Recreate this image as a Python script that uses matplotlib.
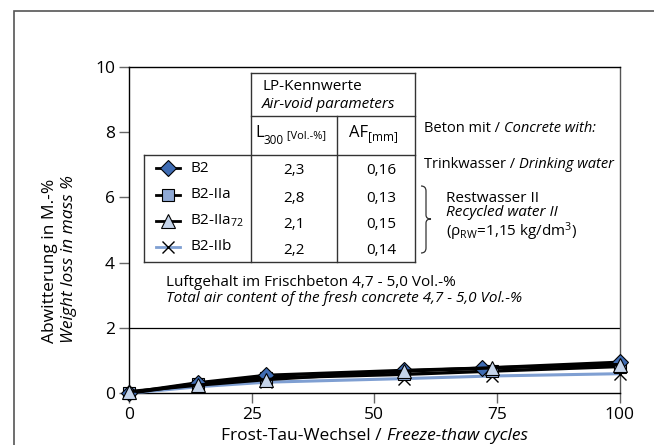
import matplotlib
matplotlib.use("Agg")
import matplotlib.pyplot as plt
from matplotlib.lines import Line2D
from matplotlib.patches import Rectangle, PathPatch
from matplotlib.path import Path

plt.rcParams['font.family'] = ['Open Sans', 'DejaVu Sans']
plt.rcParams['mathtext.fontset'] = 'custom'
plt.rcParams['mathtext.rm'] = 'Open Sans'
plt.rcParams['mathtext.it'] = 'Open Sans:italic'

# data
series_names = ['B2', 'B2-IIa', 'B2-IIa$_{72}$', 'B2-IIb']
x_b2 = [0, 14, 28, 56, 72, 100]
y_b2 = [0.02, 0.32, 0.55, 0.70, 0.77, 0.95]
x_b2iia = [0, 14, 28, 56, 74, 100]
y_b2iia = [0.0, 0.30, 0.47, 0.58, 0.68, 0.82]
x_b2iia72 = [0, 14, 28, 56, 74, 100]
y_b2iia72 = [0.05, 0.25, 0.42, 0.68, 0.78, 0.88]
x_b2iib = [0, 14, 28, 56, 74, 100]
y_b2iib = [0.0, 0.20, 0.34, 0.45, 0.53, 0.60]
l300 = ['2,3', '2,8', '2,1', '2,2']
af = ['0,16', '0,13', '0,15', '0,14']

W, H = 654, 445
fig = plt.figure(figsize=(W / 100, H / 100), dpi=100)


def fx(x):
    return x / W


def fy(y):
    return 1 - y / H


# outer frame (only top and left edge visible)
fig.add_artist(Rectangle((fx(14), -0.2), 1.2, fy(11) + 0.2, transform=fig.transFigure,
                         fill=False, edgecolor='#555555', lw=1.2))

ax = fig.add_axes([fx(129), fy(393.3), (619.6 - 129) / W, (393.3 - 66.7) / H])
ax.set_xlim(0, 100)
ax.set_ylim(0, 10)
ax.set_xticks([0, 25, 50, 75, 100])
ax.set_yticks([0, 2, 4, 6, 8, 10])
ax.tick_params(direction='out', length=7, width=1, color='#666666', labelsize=12.5, pad=3)
for s in ax.spines.values():
    s.set_linewidth(1.0)
ax.spines['right'].set_color('#555555')
ax.axhline(2, color='black', lw=0.9)

ax.plot(x_b2iib, y_b2iib, color='#7f9fd2', lw=2.2, marker='x', ms=8, mec='black', mew=1, clip_on=False, zorder=3)
ax.plot(x_b2iia72, y_b2iia72, color='black', lw=2.4, marker='^', ms=10, mfc='#c5d4ea', mec='black', mew=0.8, clip_on=False, zorder=4)
ax.plot(x_b2iia, y_b2iia, color='black', lw=2.4, marker='s', ms=8, mfc='#8fa9d5', mec='black', mew=0.8, clip_on=False, zorder=3.5)
ax.plot(x_b2, y_b2, color='black', lw=2.4, marker='D', ms=8, mfc='#3f6cb3', mec='black', mew=0.8, clip_on=False, zorder=3.8)

# axis labels
fig.text(fx(50), fy(343), 'Abwitterung in M.-%', rotation=90, ha='center', va='bottom', fontsize=12.5)
fig.text(fx(69), fy(343), 'Weight loss in mass %', rotation=90, ha='center', va='bottom', fontsize=12.5, style='italic')


def mixed(x, y, parts, center=False):
    # parts: (text, fontsize, style, y offset in px)
    r = fig.canvas.get_renderer()
    texts = []
    widths = []
    for s, size, style, dy in parts:
        t = fig.text(0, fy(y + dy), s, fontsize=size, style=style, va='center')
        texts.append(t)
        widths.append(t.get_window_extent(r).width)
    if center:
        x = x - sum(widths) / 2
    for t, w in zip(texts, widths):
        t.set_x(fx(x))
        x += w


mixed(374.5, 436, [('Frost-Tau-Wechsel / ', 12.5, 'normal', 0), ('Freeze-thaw cycles', 12.5, 'italic', 0)], center=True)

# table lines
def hline(x1, x2, y):
    fig.add_artist(Line2D([fx(x1), fx(x2)], [fy(y), fy(y)], transform=fig.transFigure, color='#333333', lw=1))


def vline(x, y1, y2):
    fig.add_artist(Line2D([fx(x), fx(x)], [fy(y1), fy(y2)], transform=fig.transFigure, color='#333333', lw=1))


hline(251, 415, 72.7)
hline(251, 415, 116)
hline(144, 415, 155.3)
hline(144, 415, 262)
vline(251, 72.7, 262)
vline(415, 72.7, 262)
vline(144, 155.3, 262)
vline(337, 116, 262)

fig.text(fx(262), fy(86), 'LP-Kennwerte', fontsize=11, va='center')
fig.text(fx(262), fy(105), 'Air-void parameters', fontsize=11, va='center', style='italic')
mixed(255, 133, [('L', 12, 'normal', 0), ('300', 8.5, 'normal', 7), (' [Vol.-%]', 8, 'normal', 3)])
mixed(349, 133, [('AF', 12, 'normal', 0), ('[mm]', 8.5, 'normal', 4)])

row_y = [168, 195, 221, 247]
styles = [
    dict(color='black', marker='D', ms=8, mfc='#3f6cb3', mec='black', mew=0.8),
    dict(color='black', marker='s', ms=8, mfc='#8fa9d5', mec='black', mew=0.8),
    dict(color='black', marker='^', ms=10, mfc='#c5d4ea', mec='black', mew=0.8),
    dict(color='#7f9fd2', marker='x', ms=8, mfc='black', mec='black', mew=1),
]
for name, l, a, y, st in zip(series_names, l300, af, row_y, styles):
    lc = st.pop('color')
    fig.add_artist(Line2D([fx(156), fx(180)], [fy(y), fy(y)], transform=fig.transFigure, color=lc, lw=2))
    fig.add_artist(Line2D([fx(168)], [fy(y)], transform=fig.transFigure, ls='none', **st))
    fig.text(fx(190), fy(y), name, fontsize=11, va='center')
    fig.text(fx(294), fy(y + 3), l, fontsize=11, va='center', ha='center')
    fig.text(fx(381), fy(y + 3), a, fontsize=11, va='center', ha='center')

mixed(424, 128, [('Beton mit / ', 10.5, 'normal', 0), ('Concrete with:', 10.5, 'italic', 0)])
mixed(424, 165, [('Trinkwasser / ', 10.5, 'normal', 0), ('Drinking water', 10.5, 'italic', 0)])
fig.text(fx(446), fy(198), 'Restwasser II', fontsize=11, va='center')
fig.text(fx(446), fy(213), 'Recycled water II', fontsize=11, va='center', style='italic')
fig.text(fx(446), fy(232), r'($\mathrm{\rho}_{\mathrm{RW}}$=1,15 kg/dm$^{3}$)', fontsize=11, va='center')

# curly brace
bx, by1, by2, bm = 421, 186, 253, 219
verts = [(bx, by1), (bx + 5, by1), (bx + 5, by1 + 5), (bx + 5, bm - 4), (bx + 5, bm), (bx + 10, bm),
         (bx + 5, bm), (bx + 5, bm + 4), (bx + 5, by2 - 5), (bx + 5, by2), (bx, by2)]
codes = [Path.MOVETO, Path.CURVE3, Path.CURVE3, Path.LINETO, Path.CURVE3, Path.CURVE3,
         Path.CURVE3, Path.CURVE3, Path.LINETO, Path.CURVE3, Path.CURVE3]
verts = [(fx(x), fy(y)) for x, y in verts]
fig.add_artist(PathPatch(Path(verts, codes), transform=fig.transFigure, fill=False, lw=0.9, edgecolor='#333333'))

fig.text(fx(166), fy(282), 'Luftgehalt im Frischbeton 4,7 - 5,0 Vol.-%', fontsize=11, va='center')
fig.text(fx(166), fy(299), 'Total air content of the fresh concrete 4,7 - 5,0 Vol.-%', fontsize=11,
         va='center', style='italic')

fig.savefig('out.png', dpi=100)
